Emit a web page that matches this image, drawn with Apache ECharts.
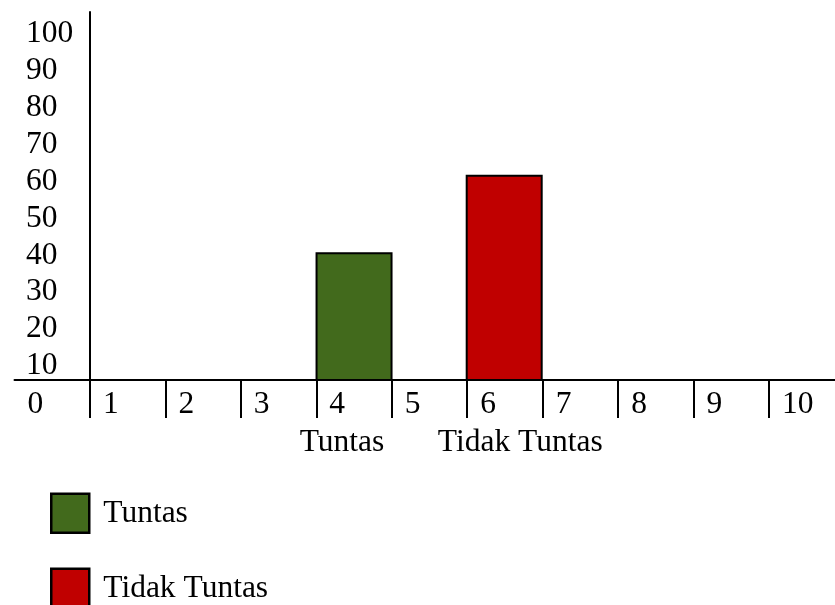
<!DOCTYPE html>
<html>
<head>
<meta charset="utf-8">
<script src="https://cdn.jsdelivr.net/npm/echarts@6/dist/echarts.min.js"></script>
<style>html,body{margin:0;padding:0;background:#fff}#c{width:835px;height:605px}</style>
</head>
<body>
<div id="c"></div>
<script>
const categories = ['Tuntas', 'Tidak Tuntas'];
const slotPositions = [4.5, 6.49];
const values = [40, 61];
const xTickValues = [0, 1, 2, 3, 4, 5, 6, 7, 8, 9, 10];
const yTickValues = [10, 20, 30, 40, 50, 60, 70, 80, 90, 100];
const colors = ['#426a1c', '#c00000'];

const FONT = 'Liberation Serif';
const FS = 31.5;
const chart = echarts.init(document.getElementById('c'), null, {renderer: 'canvas'});

const labelOffsets = [[-12, 0], [16, 0]];
const legendTops = [492.5, 567.5];

const series = categories.map((name, i) => ({
  name: name,
  type: 'bar',
  barWidth: 77,
  barGap: '-100%',
  clip: true,
  data: [[slotPositions[i], values[i]]],
  itemStyle: {color: colors[i], borderColor: '#000', borderWidth: 2},
  label: {
    show: true, position: 'bottom', distance: 46, offset: labelOffsets[i],
    formatter: name, fontFamily: FONT, fontSize: FS, color: '#000'
  },
  emphasis: {disabled: true}
}));

const legends = categories.map((name, i) => ({
  orient: 'vertical', left: 50, top: legendTops[i], padding: 0,
  itemWidth: 38, itemHeight: 39, itemGap: 0, icon: 'rect',
  itemStyle: {borderColor: '#000', borderWidth: 2.5},
  textStyle: {fontFamily: FONT, fontSize: FS, color: '#000', padding: [0, 0, 0, 9]},
  data: [name]
}));

chart.setOption({
  animation: false,
  grid: {left: 14.5, top: 12, width: 830, height: 368, containLabel: false, outerBoundsMode: 'none'},
  legend: legends,
  xAxis: {
    type: 'value', min: 0, max: 11,
    splitLine: {show: false},
    axisLine: {show: true, lineStyle: {color: '#000', width: 2}},
    axisTick: {show: true, customValues: xTickValues.slice(1), length: 38, inside: false, lineStyle: {color: '#000', width: 2}},
    axisLabel: {
      customValues: xTickValues, align: 'left', margin: 9, padding: [0, 0, 0, 13],
      fontFamily: FONT, fontSize: FS, color: '#000',
      formatter: v => String(v)
    }
  },
  yAxis: {
    type: 'value', min: 5.4, max: 105.1, offset: -75.44,
    splitLine: {show: false},
    axisLine: {show: true, lineStyle: {color: '#000', width: 2}},
    axisTick: {show: false},
    axisLabel: {
      customValues: yTickValues, align: 'left', margin: 64,
      verticalAlign: 'top', lineHeight: 6,
      fontFamily: FONT, fontSize: FS, color: '#000',
      formatter: v => String(v)
    }
  },
  series: series
});
</script>
</body>
</html>
